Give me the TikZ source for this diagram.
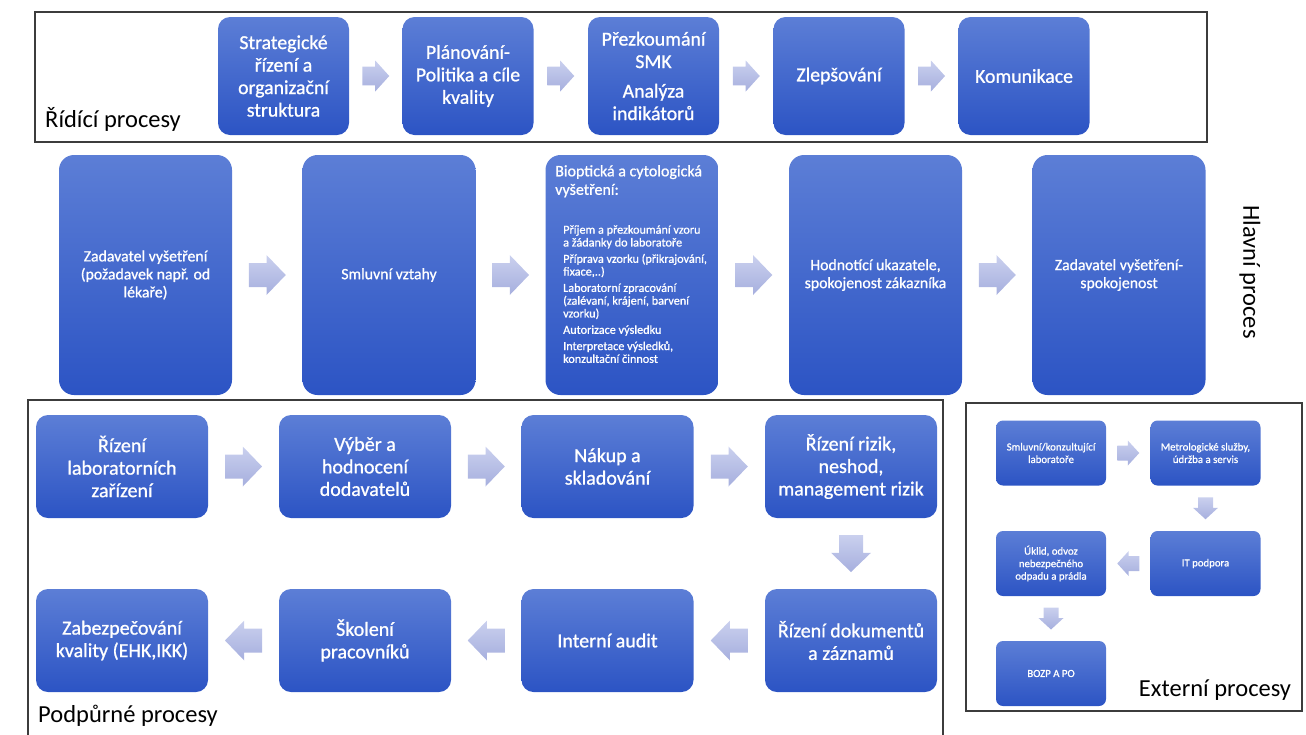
\documentclass[tikz,border=0pt]{standalone}
\usepackage{fontspec}
\setmainfont{Carlito}
\newfontfamily\boxfont{Carlito}[FakeBold=0.9]
\usetikzlibrary{calc}
\definecolor{boxtop}{RGB}{92,126,214}
\definecolor{boxbot}{RGB}{44,84,196}
\definecolor{arrtop}{RGB}{202,208,238}
\definecolor{arrbot}{RGB}{166,175,222}
\definecolor{framec}{RGB}{60,60,60}
\tikzset{
  bx/.style={rounded corners=12pt, top color=boxtop, bottom color=boxbot, draw=none,
    text=white, align=center, inner sep=2pt},
  topbx/.style={bx, minimum width=131pt, minimum height=118pt, font=\boxfont\fontsize{19.8}{22.5}\selectfont},
  mainbx/.style={bx, rounded corners=15pt, minimum width=173pt, minimum height=240pt, font=\boxfont\fontsize{15.8}{18}\selectfont},
  supbx/.style={bx, minimum width=172pt, minimum height=103pt, font=\boxfont\fontsize{20}{22.5}\selectfont},
  extbx/.style={bx, rounded corners=7pt, minimum width=110pt, minimum height=65pt, font=\boxfont\fontsize{10.8}{12.5}\selectfont},
  lbl/.style={font=\fontsize{24.5}{28}\selectfont, text=black, inner sep=0pt},
  frame/.style={draw=framec, line width=1.2pt}
}
% #1 coordinate, #2 angle, #3 length, #4 head width
\newcommand\blockarrow[4]{\shade[top color=arrtop, bottom color=arrbot, shift={(#1)}, rotate=#2]
  ({-#3/2},{-0.3*#4}) -- ({-0.02*#3},{-0.3*#4}) -- ({-0.02*#3},{-#4/2}) -- ({#3/2},0)
  -- ({-0.02*#3},{#4/2}) -- ({-0.02*#3},{0.3*#4}) -- ({-#3/2},{0.3*#4}) -- cycle;}
\begin{document}
\begin{tikzpicture}[x=1pt,y=-1pt]
\useasboundingbox (0,0) rectangle (1306,734);
% frames
\draw[frame] (35,12) rectangle (1207,142);
\draw[frame] (28,745) -- (28,400) -- (943,400) -- (943,745);
\draw[frame] (966,403) rectangle (1302,711);

% top row
\node[topbx] (t1) at (283.5,76) {Strategické\\řízení a\\organizační\\struktura};
\node[topbx] (t2) at (468,76) {Plánování-\\Politika a cíle\\kvality};
\node[topbx] (t3) at (653.5,76) {Přezkoumání\\SMK\\[7pt]Analýza\\indikátorů};
\node[topbx] (t4) at (839,76) {Zlepšování};
\node[topbx] (t5) at (1024,76) {Komunikace};
\node[lbl, anchor=south west] (lt) at (45,132) {Řídící procesy};

% main row
\node[mainbx] (m1) at (145.5,275) {Zadavatel vyšetření\\(požadavek např. od\\lékaře)};
\node[mainbx] (m2) at (389,275) {Smluvní vztahy};
\node[mainbx] (m3) at (632,275) {};
\node[text=white, anchor=north west, align=left, inner sep=0pt, font=\boxfont\fontsize{16}{18.5}\selectfont] (m3h) at (555,165) {Bioptická a cytologická\\vyšetření:};
\node[text=white, anchor=north west, align=left, inner sep=0pt, font=\boxfont\fontsize{12.2}{12.8}\selectfont] (m3t) at (563,225)
  {Příjem a přezkoumání vzoru\\a žádanky do laboratoře\\[3.5pt]
   Příprava vzorku (přikrajování,\\fixace,..)\\[3.5pt]
   Laboratorní zpracování\\(zalévaní, krájení, barvení\\vzorku)\\[3.5pt]
   Autorizace výsledku\\[3.5pt]
   Interpretace výsledků,\\konzultační činnost};
\node[mainbx] (m4) at (875.5,275) {Hodnotící ukazatele,\\spokojenost zákazníka};
\node[mainbx] (m5) at (1119,275) {Zadavatel vyšetření-\\spokojenost};
\node[lbl, rotate=-90] (lh) at (1250,272) {Hlavní proces};

% support
\node[supbx] (s1) at (122,466.5) {Řízení\\laboratorních\\zařízení};
\node[supbx] (s2) at (365,466.5) {Výběr a\\hodnocení\\dodavatelů};
\node[supbx] (s3) at (607.5,466.5) {Nákup a\\skladování};
\node[supbx] (s4) at (851,466.5) {Řízení rizik,\\neshod,\\management rizik};
\node[supbx] (s5) at (851,640.5) {Řízení dokumentů\\a záznamů};
\node[supbx] (s6) at (607.5,640.5) {Interní audit};
\node[supbx] (s7) at (365,640.5) {Školení\\pracovníků};
\node[supbx] (s8) at (122,640.5) {Zabezpečování\\kvality (EHK,IKK)};
\node[lbl, anchor=west] (ls) at (38,716) {Podpůrné procesy};

% external
\node[extbx] (e1) at (1051,453) {Smluvní/konzultující\\laboratoře};
\node[extbx] (e2) at (1205.5,453) {Metrologické služby,\\údržba a servis};
\node[extbx] (e3) at (1205.5,563.5) {IT podpora};
\node[extbx] (e4) at (1051,563.5) {Úklid, odvoz\\nebezpečného\\odpadu a prádla};
\node[extbx] (e5) at (1051,673.5) {BOZP A PO};
\node[lbl] (le) at (1215,690) {Externí procesy};

% arrows
\foreach \a/\b in {t1/t2,t2/t3,t3/t4,t4/t5}{
  \coordinate (c) at ($(\a.east)!0.5!(\b.west)$);
  \blockarrow{c}{0}{27}{31}}
\foreach \a/\b in {m1/m2,m2/m3,m3/m4,m4/m5}{
  \coordinate (c) at ($(\a.east)!0.5!(\b.west)$);
  \blockarrow{c}{0}{37}{40}}
\foreach \a/\b in {s1/s2,s2/s3,s3/s4}{
  \coordinate (c) at ($(\a.east)!0.5!(\b.west)$);
  \blockarrow{c}{0}{37}{40}}
\foreach \a/\b in {s5/s6,s6/s7,s7/s8}{
  \coordinate (c) at ($(\a.west)!0.5!(\b.east)$);
  \blockarrow{c}{180}{37}{40}}
\coordinate (c) at ($(s4.south)!0.5!(s5.north)$);
\blockarrow{c}{-90}{37}{40}
\coordinate (c) at ($(e1.east)!0.5!(e2.west)$);
\blockarrow{c}{0}{22}{25}
\coordinate (c) at ($(e2.south)!0.5!(e3.north)$);
\blockarrow{c}{-90}{22}{25}
\coordinate (c) at ($(e3.west)!0.5!(e4.east)$);
\blockarrow{c}{180}{22}{25}
\coordinate (c) at ($(e4.south)!0.5!(e5.north)$);
\blockarrow{c}{-90}{22}{25}
\end{tikzpicture}
\end{document}
